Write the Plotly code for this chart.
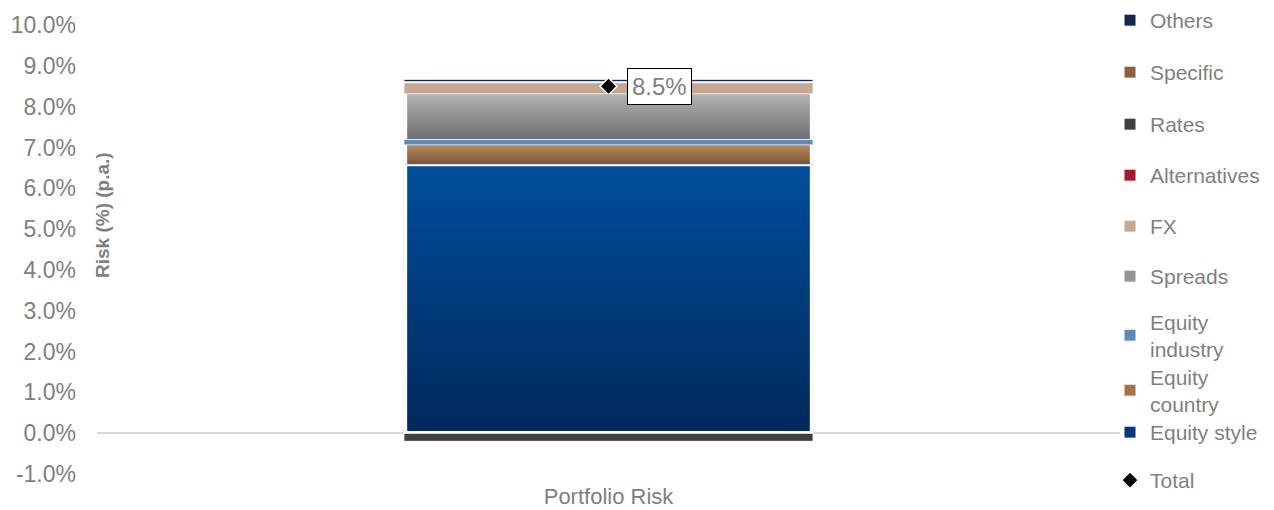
import base64
import plotly.graph_objects as go

# Risk decomposition of the portfolio (% p.a.)
category = ["Portfolio Risk"]
factors = ["Equity style", "Equity country", "Equity industry", "Spreads", "FX",
           "Alternatives", "Rates", "Specific", "Others"]
contrib = [6.59, 0.47, 0.14, 1.11, 0.28, 0.0, -0.20, 0.02, 0.06]
total_risk = [8.5]
y_ticks = [-1, 0, 1, 2, 3, 4, 5, 6, 7, 8, 9, 10]
y_tick_labels = [f"{v:.1f}%" for v in y_ticks]

colors = {
    "Equity style": "#013b7c",
    "Equity country": "#a27347",
    "Equity industry": "#5d89bb",
    "Spreads": "#939496",
    "FX": "#c6a78f",
    "Alternatives": "#a6192e",
    "Rates": "#404040",
    "Specific": "#8b6239",
    "Others": "#0f2b4c",
}
# vertical shading (top colour, bottom colour) for the larger segments
shading = {
    "Equity style": ("#004e9c", "#00295b"),
    "Equity country": ("#b88b5e", "#7b5434"),
    "Spreads": ("#b1b2b4", "#6d6e70"),
}
legend_labels = {
    "Equity industry": "Equity<br>industry",
    "Equity country": "Equity<br>country",
}

FONT = "Arial, Liberation Sans, sans-serif"
GREY = "#7f7f7f"
W, H = 1274, 510
M_L, M_R, M_T, M_B = 97, 154, 25, 36
BAR_W = 0.4
LEG_FONT = 21

# legend rows, top to bottom, with the pixel centre of each entry
legend_rows = ["Others", "Specific", "Rates", "Alternatives", "FX", "Spreads",
               "Equity industry", "Equity country", "Equity style", "Total"]
row_px = [21, 73, 125, 176, 227, 277, 336, 391, 433, 481]
legend_ids = {name: ("legend" if i == 0 else f"legend{i + 1}") for i, name in enumerate(legend_rows)}

fig = go.Figure()
for name, val in zip(factors, contrib):
    fig.add_trace(go.Bar(
        x=category, y=[val], name=legend_labels.get(name, name),
        marker=dict(color=colors[name], line=dict(color="white", width=1)),
        width=BAR_W, legend=legend_ids[name],
    ))

fig.add_trace(go.Scatter(
    x=category, y=total_risk, name="Total", mode="markers",
    marker=dict(symbol="diamond", size=13, color="black", line=dict(color="white", width=1.5)),
    legend=legend_ids["Total"],
))


def gradient_uri(top, bottom):
    svg = (
        '<svg xmlns="http://www.w3.org/2000/svg" width="100" height="100" '
        'viewBox="0 0 100 100" preserveAspectRatio="none">'
        '<defs><linearGradient id="g" x1="0" y1="0" x2="0" y2="1">'
        f'<stop offset="0" stop-color="{top}"/><stop offset="1" stop-color="{bottom}"/>'
        '</linearGradient></defs>'
        '<rect width="100" height="100" fill="url(#g)"/>'
        '<rect width="100" height="100" fill="none" stroke="white" stroke-width="1.6" '
        'vector-effect="non-scaling-stroke"/></svg>'
    )
    return "data:image/svg+xml;base64," + base64.b64encode(svg.encode()).decode()


# shade the stacked segments, positioned from the same stacked values
pos_base, neg_base = 0.0, 0.0
images = []
for name, val in zip(factors, contrib):
    if val >= 0:
        lo, hi = pos_base, pos_base + val
        pos_base = hi
    else:
        lo, hi = neg_base + val, neg_base
        neg_base = lo
    if name in shading and val != 0:
        top_c, bot_c = shading[name]
        images.append(dict(
            source=gradient_uri(top_c, bot_c), xref="x", yref="y",
            x=-BAR_W / 2, y=hi, sizex=BAR_W, sizey=hi - lo,
            xanchor="left", yanchor="top", sizing="stretch", layer="above",
        ))

fig.add_annotation(
    x=category[0], y=total_risk[0], xref="x", yref="y",
    text=f"{total_risk[0]:.1f}%", showarrow=False,
    xanchor="left", yanchor="middle", xshift=18,
    font=dict(family=FONT, size=24, color=GREY),
    bgcolor="white", bordercolor="black", borderwidth=1, borderpad=4,
)

plot_w = W - M_L - M_R
plot_h = H - M_T - M_B
fig.add_annotation(
    x=(102 - M_L) / plot_w, y=1 - (215 - M_T) / plot_h, xref="paper", yref="paper",
    xanchor="center", yanchor="middle",
    text="<b>Risk (%) (p.a.)</b>", textangle=-90, showarrow=False,
    font=dict(family=FONT, size=19, color=GREY),
)

legend_layouts = {}
for name, py in zip(legend_rows, row_px):
    n_lines = legend_labels.get(name, name).count("<br>") + 1
    top_px = py - LEG_FONT - (n_lines - 1) * LEG_FONT * 1.3 / 2
    legend_layouts[legend_ids[name]] = dict(
        x=1110 / W, xref="container", xanchor="left",
        y=1 - top_px / H, yref="container", yanchor="top",
        font=dict(family=FONT, size=LEG_FONT, color=GREY),
        bgcolor="rgba(0,0,0,0)", borderwidth=0, itemclick=False,
    )

fig.update_layout(
    width=W, height=H,
    margin=dict(l=M_L, r=M_R, t=M_T, b=M_B, autoexpand=False),
    barmode="relative",
    plot_bgcolor="white", paper_bgcolor="white",
    font=dict(family=FONT, color=GREY),
    showlegend=True,
    images=images,
    **legend_layouts,
)
fig.update_yaxes(
    range=[-1, 10], tickvals=y_ticks, ticktext=y_tick_labels,
    showgrid=False, showline=False, ticks="", automargin=False,
    zeroline=True, zerolinecolor="#d9d9d9", zerolinewidth=1.5,
    tickfont=dict(family=FONT, size=23, color=GREY), ticklabelstandoff=20,
)
fig.update_xaxes(
    range=[-0.5, 0.5], showgrid=False, showline=False, ticks="", automargin=False,
    tickfont=dict(family=FONT, size=22, color=GREY), ticklabelstandoff=7,
)

fig.write_html("out.html")
